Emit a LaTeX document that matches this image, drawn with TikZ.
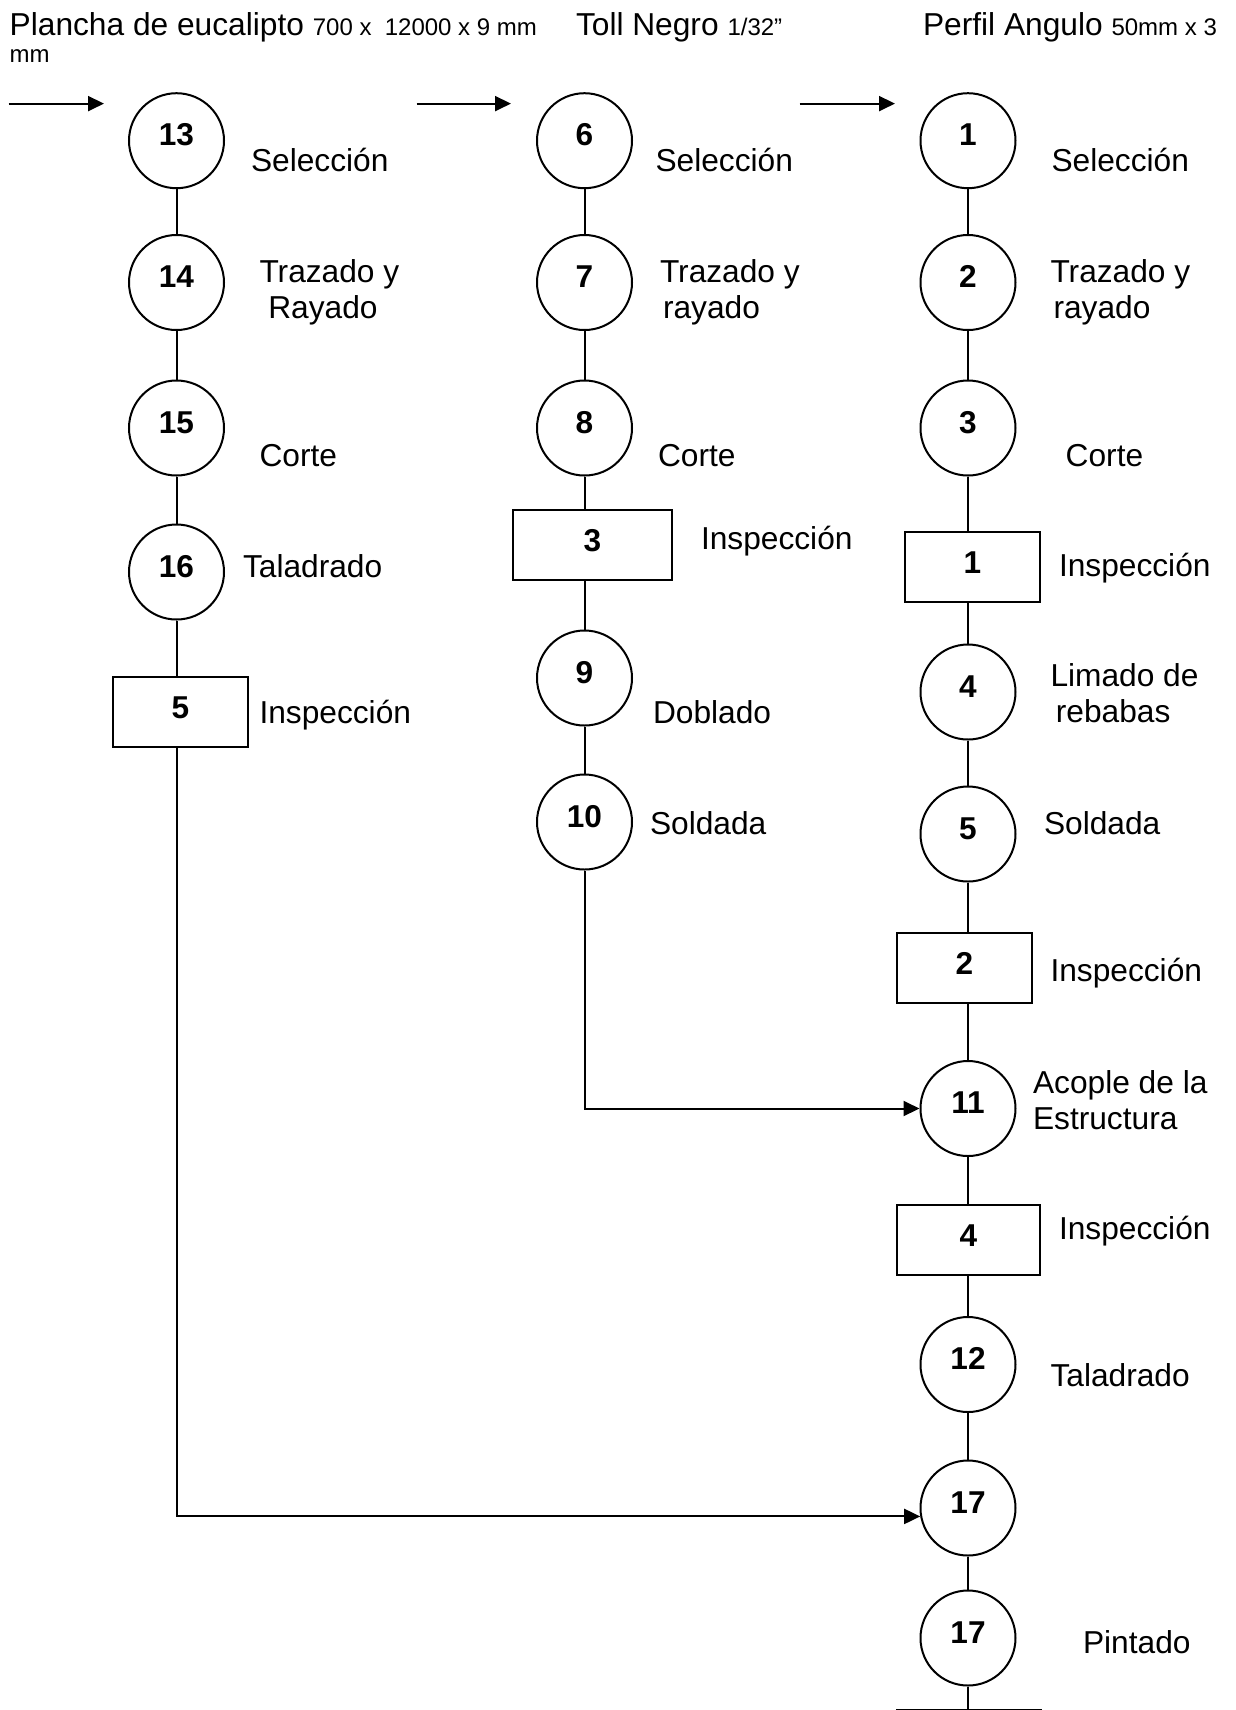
\documentclass[tikz,border=0pt]{standalone}
\usepackage{fontspec}
\setmainfont{Liberation Sans}
\usetikzlibrary{arrows.meta}

\begin{document}
\begin{tikzpicture}[x=0.5pt,y=-0.5pt,
  line width=1pt,
  op/.style={circle,draw,inner sep=0pt,minimum size=47.5pt,
    font=\fontsize{15.8}{18}\bfseries\selectfont,text height=11pt,text depth=6pt},
  insp/.style={rectangle,draw,inner sep=0pt,minimum height=35pt,
    font=\fontsize{15.8}{18}\bfseries\selectfont,text height=11pt,text depth=5pt},
  lbl/.style={anchor=base west,inner sep=0pt,font=\fontsize{15.85}{18}\selectfont},
  lbltwo/.style={anchor=west,inner sep=0pt,align=left,font=\fontsize{15.85}{18}\selectfont},
  small/.style={font=\fontsize{12}{14}\selectfont},
  flow/.style={-{Triangle[length=8pt,width=7.5pt]}}
]
\useasboundingbox (0,0) rectangle (1236,1710);

% ---- material headings
\node[lbl] (h1) at (8.7,35) {Plancha de eucalipto {\fontsize{12}{14}\selectfont 700 x\ \ 12000 x 9 mm}};
\node[lbl,small] (h1b) at (8.7,62) {mm};
\node[lbl] (h2) at (575,35) {Toll Negro {\fontsize{12}{14}\selectfont 1/32”}};
\node[lbl] (h3) at (922,35) {Perfil Angulo {\fontsize{12}{14}\selectfont 50mm x 3}};

% ---- entry arrows
\coordinate (e1s) at (8.7,103.6);   \coordinate (e1e) at (104,103.6);
\coordinate (e2s) at (416.7,103.6); \coordinate (e2e) at (511,103.6);
\coordinate (e3s) at (799.6,103.6); \coordinate (e3e) at (895,103.6);
\draw[flow] (e1s) -- (e1e);
\draw[flow] (e2s) -- (e2e);
\draw[flow] (e3s) -- (e3e);

% ---- column 1: plancha de eucalipto
\node[op] (c13) at (176.5,140.7) {13};
\node[op] (c14) at (176.5,282.5) {14};
\node[op] (c15) at (176.5,428) {15};
\node[op] (c16) at (176.5,572) {16};
\node[insp,minimum width=67.5pt] (b5) at (180.5,712) {5};

\node[lbl] (l13) at (250,171) {Selección};
\node[lbltwo] (l14) at (258.5,292) {Trazado y\\\hspace*{0.278em}Rayado};
\node[lbl] (l15) at (258.5,466) {Corte};
\node[lbl] (l16) at (242,577) {Taladrado};
\node[lbl] (lb5) at (258.5,723) {Inspección};

% ---- column 2: toll negro
\node[op] (c6) at (584.5,140.7) {6};
\node[op] (c7) at (584.5,282.5) {7};
\node[op] (c8) at (584.5,428) {8};
\node[insp,minimum width=79.5pt] (b3) at (592.5,545) {3};
\node[op] (c9) at (584.5,678) {9};
\node[op] (c10) at (584.5,822) {10};

\node[lbl] (l6) at (654.5,171) {Selección};
\node[lbltwo] (l7) at (659,292) {Trazado y\\\hspace*{1.5pt}rayado};
\node[lbl] (l8) at (657,466) {Corte};
\node[lbl] (lb3) at (700,549) {Inspección};
\node[lbl] (l9) at (652,723) {Doblado};
\node[lbl] (l10) at (649,834) {Soldada};

% ---- column 3: perfil angulo and assembly
\node[op] (c1) at (968,140.7) {1};
\node[op] (c2) at (968,282.5) {2};
\node[op] (c3) at (968,428) {3};
\node[insp,minimum width=67.5pt] (b1) at (972.5,567) {1};
\node[op] (c4) at (968,692) {4};
\node[op] (c5) at (968,834) {5};
\node[insp,minimum width=67.5pt] (b2) at (964.5,968) {2};
\node[op] (c11) at (968,1108.5) {11};
\node[insp,minimum width=71.5pt] (b4) at (968.5,1240) {4};
\node[op] (c12) at (968,1364.5) {12};
\node[op] (c17a) at (968,1508) {17};
\node[op] (c17b) at (968,1638) {17};
\node[insp,minimum width=72pt,anchor=north] (bend) at (969,1708.5) {};

\node[lbl] (l1) at (1050.5,171) {Selección};
\node[lbltwo] (l2) at (1049.5,292) {Trazado y\\\hspace*{1.5pt}rayado};
\node[lbl] (l3) at (1064.7,466) {Corte};
\node[lbl] (lb1) at (1058,576) {Inspección};
\node[lbltwo] (l4) at (1049.5,693.5) {Limado de\\\hspace*{2.7pt}rebabas};
\node[lbl] (l5) at (1043,834) {Soldada};
\node[lbl] (lb2) at (1049.5,981) {Inspección};
\node[lbltwo] (l11) at (1032,1100) {Acople de la\\Estructura};
\node[lbl] (lb4) at (1058,1239) {Inspección};
\node[lbl] (l12) at (1049.5,1386.6) {Taladrado};
\node[lbl] (l17) at (1082,1653) {Pintado};

% ---- connectors, column 1
\draw (c13) -- (c14);
\draw (c14) -- (c15);
\draw (c15) -- (c16);
\draw (c16) -- (c16 |- b5.north);
\draw[flow] (c16 |- b5.south) |- (c17a.190);

% ---- connectors, column 2
\draw (c6) -- (c7);
\draw (c7) -- (c8);
\draw (c8) -- (c8 |- b3.north);
\draw (c8 |- b3.south) -- (c9);
\draw (c9) -- (c10);
\draw[flow] (c10) |- (c11);

% ---- connectors, column 3
\draw (c1) -- (c2);
\draw (c2) -- (c3);
\draw (c3) -- (c3 |- b1.north);
\draw (c3 |- b1.south) -- (c4);
\draw (c4) -- (c5);
\draw (c5) -- (c5 |- b2.north);
\draw (c5 |- b2.south) -- (c11);
\draw (c11) -- (c11 |- b4.north);
\draw (c11 |- b4.south) -- (c12);
\draw (c12) -- (c17a);
\draw (c17a) -- (c17b);
\draw (c17b) -- (c17b |- bend.north);
\end{tikzpicture}
\end{document}
